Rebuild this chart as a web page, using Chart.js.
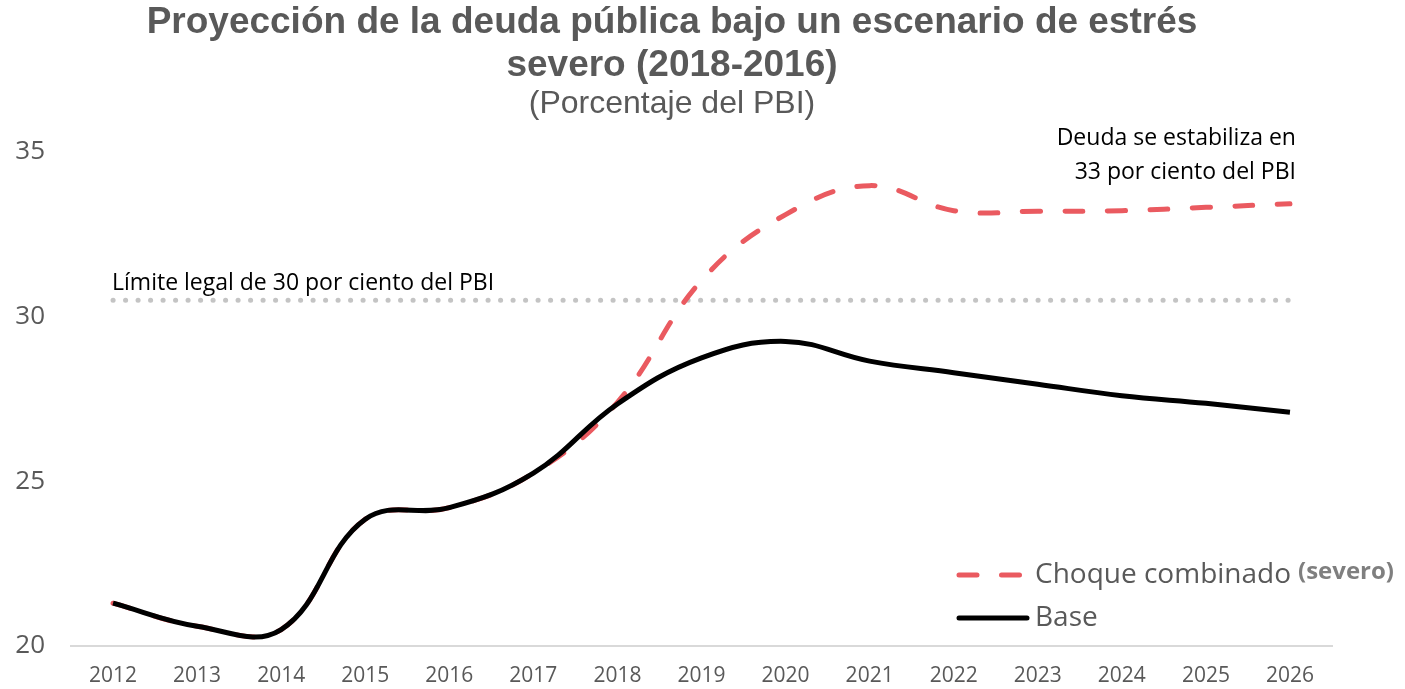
<!DOCTYPE html>
<html lang="es">
<head>
    <meta charset="UTF-8">
    <title>Proyección de la deuda pública</title>
    <script src="https://cdn.jsdelivr.net/npm/chart.js"></script>
    <style>
        body { margin: 0; background: #fff; }
    </style>
</head>
<body>
    <canvas id="myChart" width="1405" height="689"></canvas>

    <script>
        // datos
        var years = ['2012', '2013', '2014', '2015', '2016', '2017', '2018', '2019', '2020',
                     '2021', '2022', '2023', '2024', '2025', '2026'];
        var base = [21.3, 20.6, 20.5, 23.85, 24.2, 25.25, 27.35, 28.75, 29.25,
                    28.65, 28.3, 27.95, 27.6, 27.37, 27.1];
        var choque = [21.3, 20.6, 20.5, 23.85, 24.2, 25.25, 27.4, 31.1, 33.1,
                      33.98, 33.22, 33.2, 33.22, 33.32, 33.43];
        var limite = [30.5, 30.5, 30.5, 30.5, 30.5, 30.5, 30.5, 30.5, 30.5,
                      30.5, 30.5, 30.5, 30.5, 30.5, 30.5];
        var yTicks = [20, 25, 30, 35];

        var gris = '#595959';

        // textos sobre el gráfico y leyenda
        var notas = {
            id: 'notas',
            afterDraw: function(chart) {
                var ctx = chart.ctx;
                var x = chart.scales.x, y = chart.scales.y, area = chart.chartArea;
                ctx.save();
                ctx.fillStyle = '#000';
                ctx.font = '23px "Open Sans"';
                ctx.textBaseline = 'alphabetic';
                ctx.textAlign = 'left';
                ctx.fillText('Límite legal de 30 por ciento del PBI', x.getPixelForValue(0) - 1, y.getPixelForValue(30.5) - 10);
                ctx.textAlign = 'right';
                var xr = x.getPixelForValue(14) + 6;
                ctx.fillText('Deuda se estabiliza en', xr, area.top - 7);
                ctx.fillText('33 por ciento del PBI', xr, area.top + 27);

                // leyenda
                var lx = area.right - 375;
                var rows = [
                    { ds: chart.data.datasets[1], y: area.bottom - 71 },
                    { ds: chart.data.datasets[0], y: area.bottom - 28 }
                ];
                rows.forEach(function(r) {
                    ctx.beginPath();
                    ctx.strokeStyle = r.ds.borderColor;
                    ctx.lineWidth = 5;
                    ctx.lineCap = 'round';
                    ctx.setLineDash(r.ds.borderDash || []);
                    ctx.moveTo(lx + 2, r.y);
                    ctx.lineTo(lx + 70, r.y);
                    ctx.stroke();
                    ctx.setLineDash([]);
                    ctx.fillStyle = gris;
                    ctx.font = '28px "Open Sans"';
                    ctx.textAlign = 'left';
                    ctx.textBaseline = 'middle';
                    ctx.fillText(r.ds.label, lx + 78, r.y);
                });
                ctx.fillStyle = '#7f7f7f';
                ctx.font = 'bold 24px "Open Sans"';
                ctx.fillText('(severo)', lx + 341, area.bottom - 74);
                ctx.restore();
            }
        };

        var ctx = document.getElementById('myChart').getContext('2d');
        var myChart = new Chart(ctx, {
            type: 'line',
            data: {
                labels: years,
                datasets: [{
                    label: 'Base',
                    data: base,
                    borderColor: '#000000',
                    borderWidth: 5,
                    pointRadius: 0,
                    tension: 0.4
                }, {
                    label: 'Choque combinado',
                    data: choque,
                    borderColor: '#ea5a60',
                    borderWidth: 5,
                    borderDash: [18, 24.5],
                    borderCapStyle: 'round',
                    pointRadius: 0,
                    tension: 0.4
                }, {
                    label: 'Límite',
                    data: limite,
                    borderColor: '#c4c4c4',
                    borderWidth: 5,
                    borderDash: [0.1, 12.4],
                    borderCapStyle: 'round',
                    pointRadius: 0
                }]
            },
            options: {
                responsive: false,
                animation: false,
                layout: { padding: { left: 12, right: 73, top: 0, bottom: 2 } },
                plugins: {
                    legend: { display: false },
                    tooltip: { enabled: false },
                    title: {
                        display: true,
                        text: ['Proyección de la deuda pública bajo un escenario de estrés', 'severo (2018-2016)'],
                        color: gris,
                        font: { family: '"Liberation Sans", Arial', size: 37, weight: 'bold', lineHeight: 1.16 },
                        padding: { top: 1, bottom: 0 }
                    },
                    subtitle: {
                        display: true,
                        text: '(Porcentaje del PBI)',
                        color: gris,
                        font: { family: '"Liberation Sans", Arial', size: 32, lineHeight: 1.1 },
                        padding: { top: 0, bottom: 30 }
                    }
                },
                scales: {
                    x: {
                        offset: true,
                        afterFit: function(scale) { scale.height = 41; },
                        grid: { display: false, drawTicks: false },
                        border: { display: true, color: '#d9d9d9', width: 2 },
                        ticks: {
                            color: gris,
                            padding: 17,
                            maxRotation: 0,
                            font: { family: '"Open Sans"', size: 21, lineHeight: 1.2 }
                        }
                    },
                    y: {
                        min: 20,
                        max: 35,
                        afterBuildTicks: function(scale) {
                            scale.ticks = yTicks.map(function(v) { return { value: v }; });
                        },
                        afterFit: function(scale) { scale.width = 59; },
                        grid: { display: false, drawTicks: false },
                        border: { display: false },
                        ticks: {
                            color: gris,
                            padding: 26,
                            font: { family: '"Open Sans"', size: 26 }
                        }
                    }
                }
            },
            plugins: [notas]
        });
    </script>
</body>
</html>
